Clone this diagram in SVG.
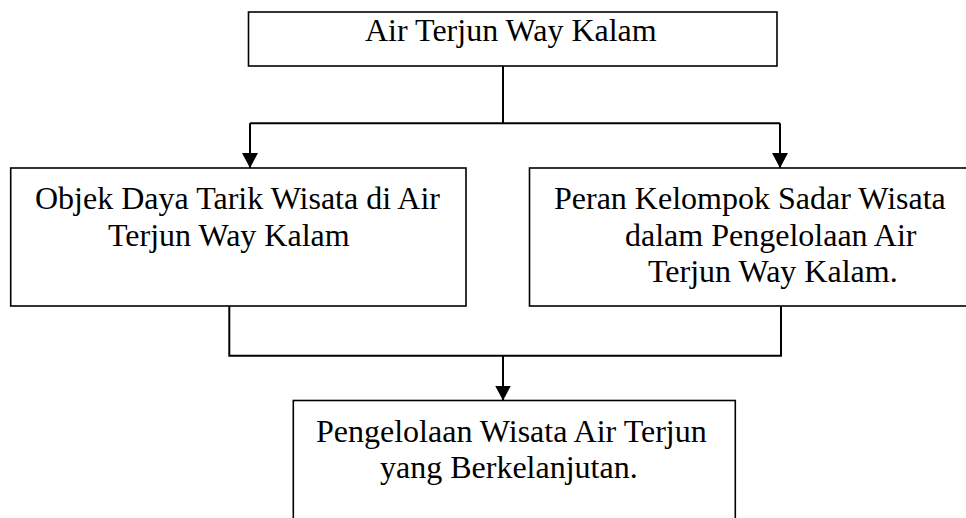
<svg xmlns="http://www.w3.org/2000/svg" width="966" height="518" viewBox="0 0 966 518">
  <style>
    .box { fill: #ffffff; stroke: #000000; stroke-width: 1.6; }
    .lbl { font-family: "Liberation Serif", "Times New Roman", serif; font-size: 32px; fill: #000000; }
    .conn { fill: none; stroke: #000000; stroke-width: 2; }
  </style>
  <defs>
    <marker id="arrow" markerUnits="userSpaceOnUse" markerWidth="16" markerHeight="16" refX="15" refY="8" orient="auto">
      <path d="M0,0 L15,8 L0,16 Z" fill="#000000"/>
    </marker>
  </defs>
  <rect width="966" height="518" fill="#ffffff"/>

  <g id="connectors">
    <polyline class="conn" points="503,66 503,123.3"/>
    <polyline class="conn" points="250,123.3 780,123.3"/>
    <line class="conn" x1="250" y1="123.3" x2="250" y2="168" marker-end="url(#arrow)"/>
    <line class="conn" x1="780" y1="123.3" x2="780" y2="168" marker-end="url(#arrow)"/>
    <polyline class="conn" points="229.3,306 229.3,355.7 781,355.7 781,306"/>
    <line class="conn" x1="503" y1="355.7" x2="503" y2="400.5" marker-end="url(#arrow)"/>
  </g>

  <g id="node-top">
    <rect class="box" x="248.5" y="12" width="528.5" height="54"/>
    <text class="lbl" x="365" y="41">Air Terjun Way Kalam</text>
  </g>

  <g id="node-left">
    <rect class="box" x="10.7" y="168" width="455.3" height="138"/>
    <text class="lbl" x="35" y="209">Objek Daya Tarik Wisata di Air</text>
    <text class="lbl" x="108" y="245.5">Terjun Way Kalam</text>
  </g>

  <g id="node-right">
    <rect class="box" x="529.5" y="168" width="441.5" height="138"/>
    <text class="lbl" x="554" y="209">Peran Kelompok Sadar Wisata</text>
    <text class="lbl" x="625" y="245.5">dalam Pengelolaan Air</text>
    <text class="lbl" x="648" y="282">Terjun Way Kalam.</text>
  </g>

  <g id="node-bottom">
    <rect class="box" x="293.3" y="400.5" width="442" height="140"/>
    <text class="lbl" x="316" y="441.7">Pengelolaan Wisata Air Terjun</text>
    <text class="lbl" x="380" y="478">yang Berkelanjutan.</text>
  </g>
</svg>
